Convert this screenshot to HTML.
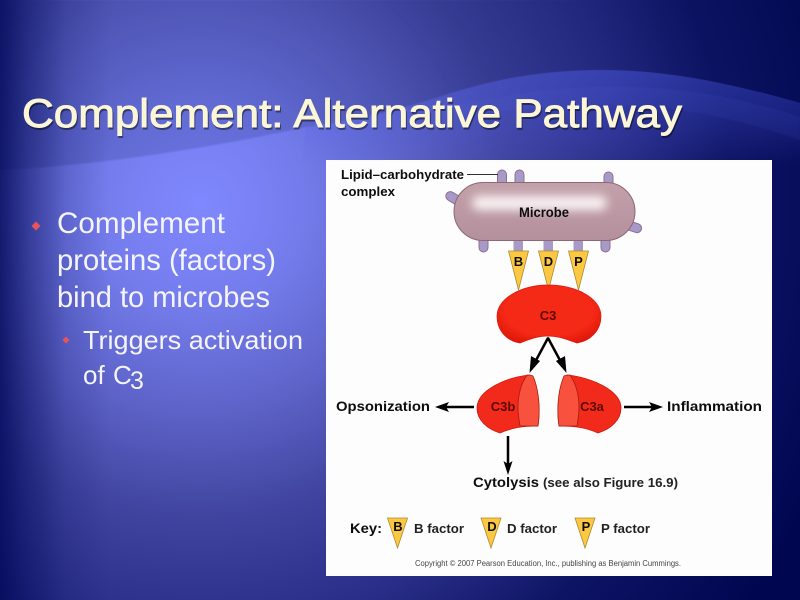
<!DOCTYPE html>
<html><head><meta charset="utf-8"><style>html,body{margin:0;padding:0;background:#101a70}svg{display:block}</style></head>
<body>
<svg width="800" height="600" viewBox="0 0 800 600" xmlns="http://www.w3.org/2000/svg" font-family="'Liberation Sans',sans-serif">
<defs>
<radialGradient id="bg" gradientUnits="userSpaceOnUse" cx="200" cy="205" r="680">
<stop offset="0" stop-color="#8088ff"/><stop offset=".15" stop-color="#747cec"/><stop offset=".31" stop-color="#5c62c6"/><stop offset=".46" stop-color="#40449f"/><stop offset=".62" stop-color="#2a2e88"/><stop offset=".78" stop-color="#0e1464"/><stop offset="1" stop-color="#000650"/></radialGradient>
<linearGradient id="edge" x1="0" x2="1" y1="0" y2="0"><stop offset="0" stop-color="#000858" stop-opacity=".8"/><stop offset=".25" stop-color="#000858" stop-opacity=".48"/><stop offset=".6" stop-color="#000858" stop-opacity=".14"/><stop offset="1" stop-color="#000858" stop-opacity="0"/></linearGradient>
<linearGradient id="band" x1="0" x2="0" y1="60" y2="165" gradientUnits="userSpaceOnUse"><stop offset="0" stop-color="#5060f0" stop-opacity=".42"/><stop offset=".55" stop-color="#5060f0" stop-opacity=".22"/><stop offset="1" stop-color="#5060f0" stop-opacity="0"/></linearGradient>
<radialGradient id="red" cx=".5" cy=".45" r=".6"><stop offset="0" stop-color="#f52a14"/><stop offset=".7" stop-color="#f52a14"/><stop offset="1" stop-color="#e0180c"/></radialGradient>
<linearGradient id="mic" x1="0" y1="0" x2="0" y2="1"><stop offset="0" stop-color="#c3a0aa"/><stop offset="1" stop-color="#b3909c"/></linearGradient>
<filter id="b1" x="-30%" y="-100%" width="160%" height="300%"><feGaussianBlur stdDeviation="5"/></filter>
<filter id="b2" x="-5%" y="-30%" width="110%" height="160%"><feGaussianBlur stdDeviation=".8"/></filter>
<filter id="soft" x="-2%" y="-2%" width="104%" height="104%"><feGaussianBlur stdDeviation=".35"/></filter>
</defs>
<rect width="800" height="600" fill="url(#bg)"/>
<path d="M0 0H800V103C720 80 660 70 602 70C540 70 490 80 439 97C390 112 350 122 306 127C200 150 90 166 0 170Z" fill="#000a50" opacity=".15" filter="url(#b2)"/>
<path d="M306 127C350 122 390 112 439 97C490 80 540 70 602 70C660 70 720 80 800 103V175H300Z" fill="url(#band)"/>
<path d="M408 113C460 105 510 93 560 89C640 82 720 90 800 117V140C700 105 620 100 540 108C490 113 450 115 408 113Z" fill="#6070f0" opacity=".08" filter="url(#b2)"/>
<rect width="110" height="600" fill="url(#edge)"/>

<g filter="url(#soft)">
<text x="23" y="129" font-size="40" fill="#000" stroke="#000" stroke-width=".9" opacity=".45" textLength="660" lengthAdjust="spacingAndGlyphs">Complement: Alternative Pathway</text>
<text x="22" y="127" font-size="40" fill="#fbf7d6" stroke="#fbf7d6" stroke-width=".9" textLength="660" lengthAdjust="spacingAndGlyphs">Complement: Alternative Pathway</text>

<path d="M36 221.500L40.500 226 36 230.500 31.500 226Z" fill="#e8525c"/>
<text x="57" y="233" font-size="30" fill="#f4f4fa" textLength="168" lengthAdjust="spacingAndGlyphs">Complement</text>
<text x="57" y="270" font-size="30" fill="#f4f4fa" textLength="219" lengthAdjust="spacingAndGlyphs">proteins (factors)</text>
<text x="57" y="307" font-size="30" fill="#f4f4fa" textLength="213" lengthAdjust="spacingAndGlyphs">bind to microbes</text>
<path d="M66 336.500L69.500 340 66 343.500 62.500 340Z" fill="#e8525c"/>
<text x="83" y="349" font-size="26" fill="#f4f4fa" textLength="220" lengthAdjust="spacingAndGlyphs">Triggers activation</text>
<text x="83" y="384" font-size="26" fill="#f4f4fa">of</text>
<text x="113" y="384" font-size="26" fill="#f4f4fa">C</text>
<text x="130" y="389" font-size="25" fill="#f4f4fa">3</text>
</g>

<rect x="326" y="160" width="446" height="416" fill="#fdfdfd"/>

<g filter="url(#soft)">
<!-- stalks -->
<g fill="#a89ac8" stroke="#8d6f92" stroke-width="1">
<rect x="497.500" y="170" width="9" height="20" rx="4.500"/>
<rect x="515" y="170" width="9" height="20" rx="4.500"/>
<rect x="604" y="172" width="9" height="20" rx="4.500"/>
<rect x="479" y="232" width="9" height="20" rx="4.500"/>
<rect x="601" y="232" width="9" height="20" rx="4.500"/>
<rect x="513.500" y="235" width="9.500" height="22" stroke="none"/>
<rect x="543.500" y="235" width="9.500" height="22" stroke="none"/>
<rect x="573.500" y="235" width="9.500" height="22" stroke="none"/>
<rect x="445" y="194.500" width="20" height="9" rx="4.500" transform="rotate(32 455 199)"/>
<rect x="622" y="222" width="20" height="9" rx="4.500" transform="rotate(18 632 226)"/>
</g>
<rect x="454" y="182.500" width="181" height="58" rx="29" fill="url(#mic)" stroke="#8d6873" stroke-width="1"/>
<rect x="472" y="196" width="135" height="14" rx="7" fill="#fbf6f7" filter="url(#b1)"/>
<text x="544" y="217" font-size="13.500" font-weight="bold" text-anchor="middle" fill="#111" textLength="50" lengthAdjust="spacingAndGlyphs">Microbe</text>

<g fill="#fcc843" stroke="#a98a30" stroke-width=".8">
<path d="M508.500 251H528.500L518.500 290Z"/><path d="M538.500 251H558.500L548.500 290Z"/><path d="M568.500 251H588.500L578.500 290Z"/>
</g>
<g font-size="13" font-weight="bold" text-anchor="middle" fill="#111">
<text x="518.500" y="266">B</text><text x="548.500" y="266">D</text><text x="578.500" y="266">P</text>
</g>

<path d="M497 316C497 298 522 285 548 285C576 285 601 298 601 316C601 331 590 341 577 343C565 339 558 336 548 336C538 336 530 339 520 343C507 341 497 331 497 316Z" fill="url(#red)" stroke="#d81a0c" stroke-width=".7"/>
<text x="548" y="320" font-size="13" font-weight="bold" text-anchor="middle" fill="#5a0a06">C3</text>

<!-- arrows -->
<g stroke="#000" stroke-width="2.500" fill="none">
<path d="M548 338L534 364"/><path d="M548 338L562 364"/>
<path d="M474 407H441"/><path d="M624 407H652"/><path d="M508 436V466"/>
</g>
<g fill="#000">
<path d="M529.500 373L531 356 540 361Z"/>
<path d="M566.500 373L556 361 565 356Z"/>
<path d="M435 407L449 402 446 407 449 412Z"/>
<path d="M663 407L649 402 652 407 649 412Z"/>
<path d="M508 475L503.500 461 508 464 512.500 461Z"/>
<path d="M548 336.500L545 341H551Z"/>
</g>

<!-- C3b -->
<path d="M530 375C507 377 477 390 477 408C477 420 487 429 500 433C511 428 522 426 538 426C540 412 540 390 530 375Z" fill="#f2291a" stroke="#d01a0e" stroke-width=".8"/>
<path d="M527 375C520 385 518 398 518 408C518 414 519 420 520 426L538 426C540 414 540 392 533 376C531 375 529 375 527 375Z" fill="#f8513c" stroke="#a81a10" stroke-width=".8"/>
<text x="503" y="411" font-size="13" font-weight="bold" text-anchor="middle" fill="#5a0a06">C3b</text>
<!-- C3a -->
<path d="M567 375C590 377 621 390 621 408C621 420 611 429 598 433C587 428 576 426 559 426C557 412 557 390 567 375Z" fill="#f2291a" stroke="#d01a0e" stroke-width=".8"/>
<path d="M570 375C577 385 579 398 579 408C579 414 578 420 577 426L559 426C557 414 557 392 564 376C566 375 568 375 570 375Z" fill="#f8513c" stroke="#a81a10" stroke-width=".8"/>
<text x="592" y="411" font-size="13" font-weight="bold" text-anchor="middle" fill="#5a0a06">C3a</text>

<g fill="#111" font-weight="bold">
<text x="341" y="179" font-size="13" textLength="123" lengthAdjust="spacingAndGlyphs">Lipid–carbohydrate</text>
<text x="341" y="196" font-size="13" textLength="54" lengthAdjust="spacingAndGlyphs">complex</text>
<text x="336" y="411" font-size="13.500" textLength="94" lengthAdjust="spacingAndGlyphs">Opsonization</text>
<text x="667" y="411" font-size="13.500" textLength="95" lengthAdjust="spacingAndGlyphs">Inflammation</text>
<text x="473" y="487" font-size="13.500" textLength="66" lengthAdjust="spacingAndGlyphs">Cytolysis</text>
<text x="543" y="487" font-size="13" fill="#222" textLength="135" lengthAdjust="spacingAndGlyphs">(see also Figure 16.9)</text>
<text x="350" y="533" font-size="13.500" textLength="32" lengthAdjust="spacingAndGlyphs">Key:</text>
<text x="414" y="533" font-size="13" fill="#222" textLength="50" lengthAdjust="spacingAndGlyphs">B factor</text>
<text x="507" y="533" font-size="13" fill="#222" textLength="50" lengthAdjust="spacingAndGlyphs">D factor</text>
<text x="601" y="533" font-size="13" fill="#222" textLength="49" lengthAdjust="spacingAndGlyphs">P factor</text>
</g>
<path d="M467 174.500H498" stroke="#333" stroke-width="1"/>

<g fill="#fcc843" stroke="#a98a30" stroke-width=".8">
<path d="M387.500 518H407.500L397.500 548Z"/><path d="M481 518H501L491 548Z"/><path d="M575 518H595L585 548Z"/>
</g>
<g font-size="13" font-weight="bold" text-anchor="middle" fill="#111">
<text x="398" y="531">B</text><text x="492" y="531">D</text><text x="586" y="531">P</text>
</g>
<text x="415" y="566" font-size="8" fill="#444" textLength="266" lengthAdjust="spacingAndGlyphs">Copyright © 2007 Pearson Education, Inc., publishing as Benjamin Cummings.</text>
</g>
</svg>
</body></html>
